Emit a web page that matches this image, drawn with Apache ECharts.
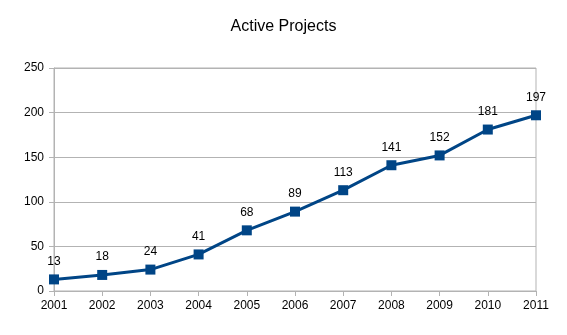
<!DOCTYPE html>
<html><head><meta charset="utf-8">
<script src="https://cdn.jsdelivr.net/npm/echarts@6/dist/echarts.min.js"></script>
<style>html,body{margin:0;padding:0;background:#fff}#c{width:567px;height:335px}</style>
</head><body><div id="c"></div>
<script>
const years = ['2001','2002','2003','2004','2005','2006','2007','2008','2009','2010','2011'];
const activeProjects = [13, 18, 24, 41, 68, 89, 113, 141, 152, 181, 197];
const yTicks = {min: 0, max: 250, interval: 50};

const chart = echarts.init(document.getElementById('c'), null, {renderer: 'canvas'});
const font = '"Liberation Sans", Arial, sans-serif';
chart.setOption({
  animation: false,
  backgroundColor: '#fff',
  title: {
    text: 'Active Projects', left: 'center', top: 14,
    textStyle: {fontFamily: font, fontSize: 16, fontWeight: 'normal', color: '#000'}
  },
  grid: {left: 54, right: 31, top: 68, bottom: 44, show: true, borderColor: '#b3b3b3', borderWidth: 1},
  xAxis: {
    type: 'category', data: years, boundaryGap: false,
    axisLine: {lineStyle: {color: '#b3b3b3'}},
    axisTick: {show: true, length: 5, lineStyle: {color: '#b3b3b3'}},
    axisLabel: {color: '#000', fontFamily: font, fontSize: 12, margin: 9},
    splitLine: {show: false}
  },
  yAxis: {
    type: 'value', min: yTicks.min, max: yTicks.max, interval: yTicks.interval,
    axisLine: {show: true, lineStyle: {color: '#b3b3b3'}},
    axisTick: {show: true, length: 5, lineStyle: {color: '#b3b3b3'}},
    axisLabel: {color: '#000', fontFamily: font, fontSize: 12, margin: 10},
    splitLine: {show: true, lineStyle: {color: '#b3b3b3'}}
  },
  series: [{
    type: 'line', data: activeProjects,
    symbol: 'rect', symbolSize: 10,
    lineStyle: {color: '#004586', width: 3},
    itemStyle: {color: '#004586'},
    label: {show: true, position: 'top', distance: 7, color: '#000', fontFamily: font, fontSize: 12}
  }]
});
</script></body></html>
